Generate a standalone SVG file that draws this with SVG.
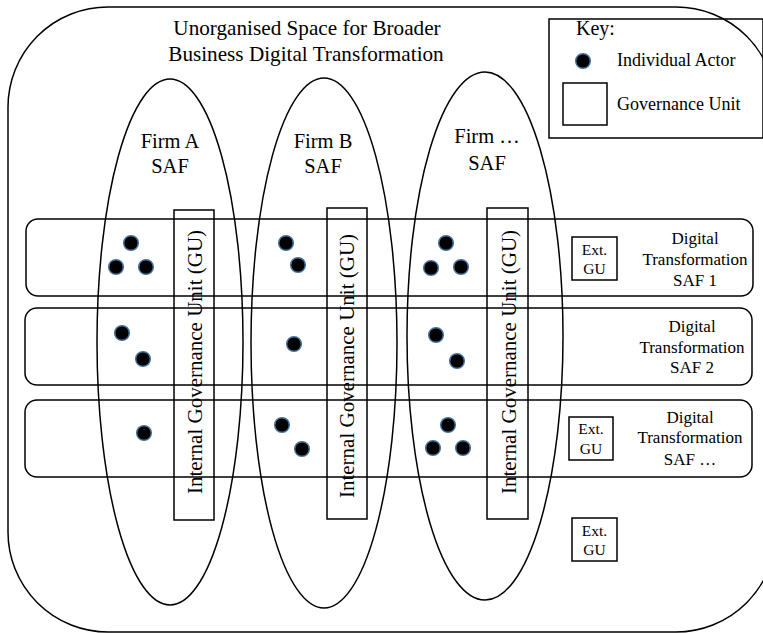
<svg xmlns="http://www.w3.org/2000/svg" width="763" height="633" viewBox="0 0 763 633">
<style>
.ln{fill:none;stroke:#000;stroke-width:1.5}
.t{font-family:"Liberation Serif","Times New Roman",serif;fill:#000;text-anchor:middle}
.s{text-anchor:start}
.dot{fill:#000;stroke:#41719C;stroke-width:1.5}
</style>
<defs>
<circle id="d" r="7.3" class="dot"/>
</defs>
<rect width="763" height="633" fill="#fff"/>
<g id="outer-space">
<rect class="ln" x="8" y="7" width="768" height="625" rx="100" ry="100"/>
<text class="t" font-size="21.2" x="307" y="35">Unorganised Space for Broader</text>
<text class="t" font-size="21.2" x="306" y="61">Business Digital Transformation</text>
</g>
<g id="key">
<rect class="ln" x="549" y="19" width="214" height="119" fill="#fff"/>
<text class="t s" font-size="20" x="576" y="35">Key:</text>
<use href="#d" x="583" y="61"/>
<text class="t s" font-size="18" x="617" y="66">Individual Actor</text>
<rect class="ln" x="563" y="83" width="44" height="42"/>
<text class="t s" font-size="18" x="617" y="110">Governance Unit</text>
</g>
<g id="dt-saf-1">
<rect class="ln" x="26" y="219" width="727" height="77" rx="12"/>
<text class="t" font-size="17" x="695" y="244">Digital</text>
<text class="t" font-size="17" x="695" y="265">Transformation</text>
<text class="t" font-size="17" x="695" y="286">SAF 1</text>
</g>
<g id="dt-saf-2">
<rect class="ln" x="25" y="308" width="727" height="77" rx="12"/>
<text class="t" font-size="17" x="692" y="332">Digital</text>
<text class="t" font-size="17" x="692" y="353">Transformation</text>
<text class="t" font-size="17" x="692" y="373">SAF 2</text>
</g>
<g id="dt-saf-n">
<rect class="ln" x="25" y="400" width="727" height="77" rx="12"/>
<text class="t" font-size="17" x="690" y="423">Digital</text>
<text class="t" font-size="17" x="690" y="443">Transformation</text>
<text class="t" font-size="17" x="690" y="465">SAF …</text>
</g>
<g id="firm-a">
<ellipse class="ln" cx="170" cy="342" rx="73" ry="263"/>
<text class="t" font-size="20.5" x="170" y="148">Firm A</text>
<text class="t" font-size="20.5" x="170" y="173">SAF</text>
<rect class="ln" x="174" y="210" width="40" height="310"/>
<text class="t" font-size="21" transform="translate(202 362) rotate(-90)">Internal Governance Unit (GU)</text>
</g>
<g id="firm-b">
<ellipse class="ln" cx="324" cy="343" rx="73" ry="265"/>
<text class="t" font-size="20.5" x="323" y="148">Firm B</text>
<text class="t" font-size="20.5" x="323" y="173">SAF</text>
<rect class="ln" x="327" y="208" width="40" height="311"/>
<text class="t" font-size="21" transform="translate(354 366) rotate(-90)">Internal Governance Unit (GU)</text>
</g>
<g id="firm-n">
<ellipse class="ln" cx="485" cy="336" rx="78" ry="264"/>
<text class="t" font-size="20.5" x="487" y="143">Firm …</text>
<text class="t" font-size="20.5" x="487" y="170">SAF</text>
<rect class="ln" x="487" y="208" width="41" height="311"/>
<text class="t" font-size="21" transform="translate(516 362) rotate(-90)">Internal Governance Unit (GU)</text>
</g>
<g id="ext-gu-1">
<rect class="ln" x="572" y="237" width="45" height="43"/>
<text class="t" font-size="15.5" x="594.5" y="255">Ext.</text>
<text class="t" font-size="15.5" x="594.5" y="274">GU</text>
</g>
<g id="ext-gu-2">
<rect class="ln" x="569" y="417" width="44" height="43"/>
<text class="t" font-size="15.5" x="591" y="434">Ext.</text>
<text class="t" font-size="15.5" x="591" y="454">GU</text>
</g>
<g id="ext-gu-3">
<rect class="ln" x="572" y="518" width="45" height="43"/>
<text class="t" font-size="15.5" x="594.5" y="536">Ext.</text>
<text class="t" font-size="15.5" x="594.5" y="555">GU</text>
</g>
<g id="actors">
<use href="#d" x="131" y="243"/><use href="#d" x="116" y="267"/><use href="#d" x="146" y="267"/>
<use href="#d" x="286" y="243"/><use href="#d" x="298" y="265"/>
<use href="#d" x="446" y="243"/><use href="#d" x="431" y="268"/><use href="#d" x="461" y="267"/>
<use href="#d" x="122" y="333"/><use href="#d" x="143" y="359"/>
<use href="#d" x="294" y="344"/>
<use href="#d" x="436" y="335"/><use href="#d" x="457" y="361"/>
<use href="#d" x="144" y="433"/>
<use href="#d" x="282" y="425"/><use href="#d" x="302" y="449"/>
<use href="#d" x="448" y="425"/><use href="#d" x="433" y="448"/><use href="#d" x="463" y="448"/>
</g>
<g id="connectors"/>
</svg>
